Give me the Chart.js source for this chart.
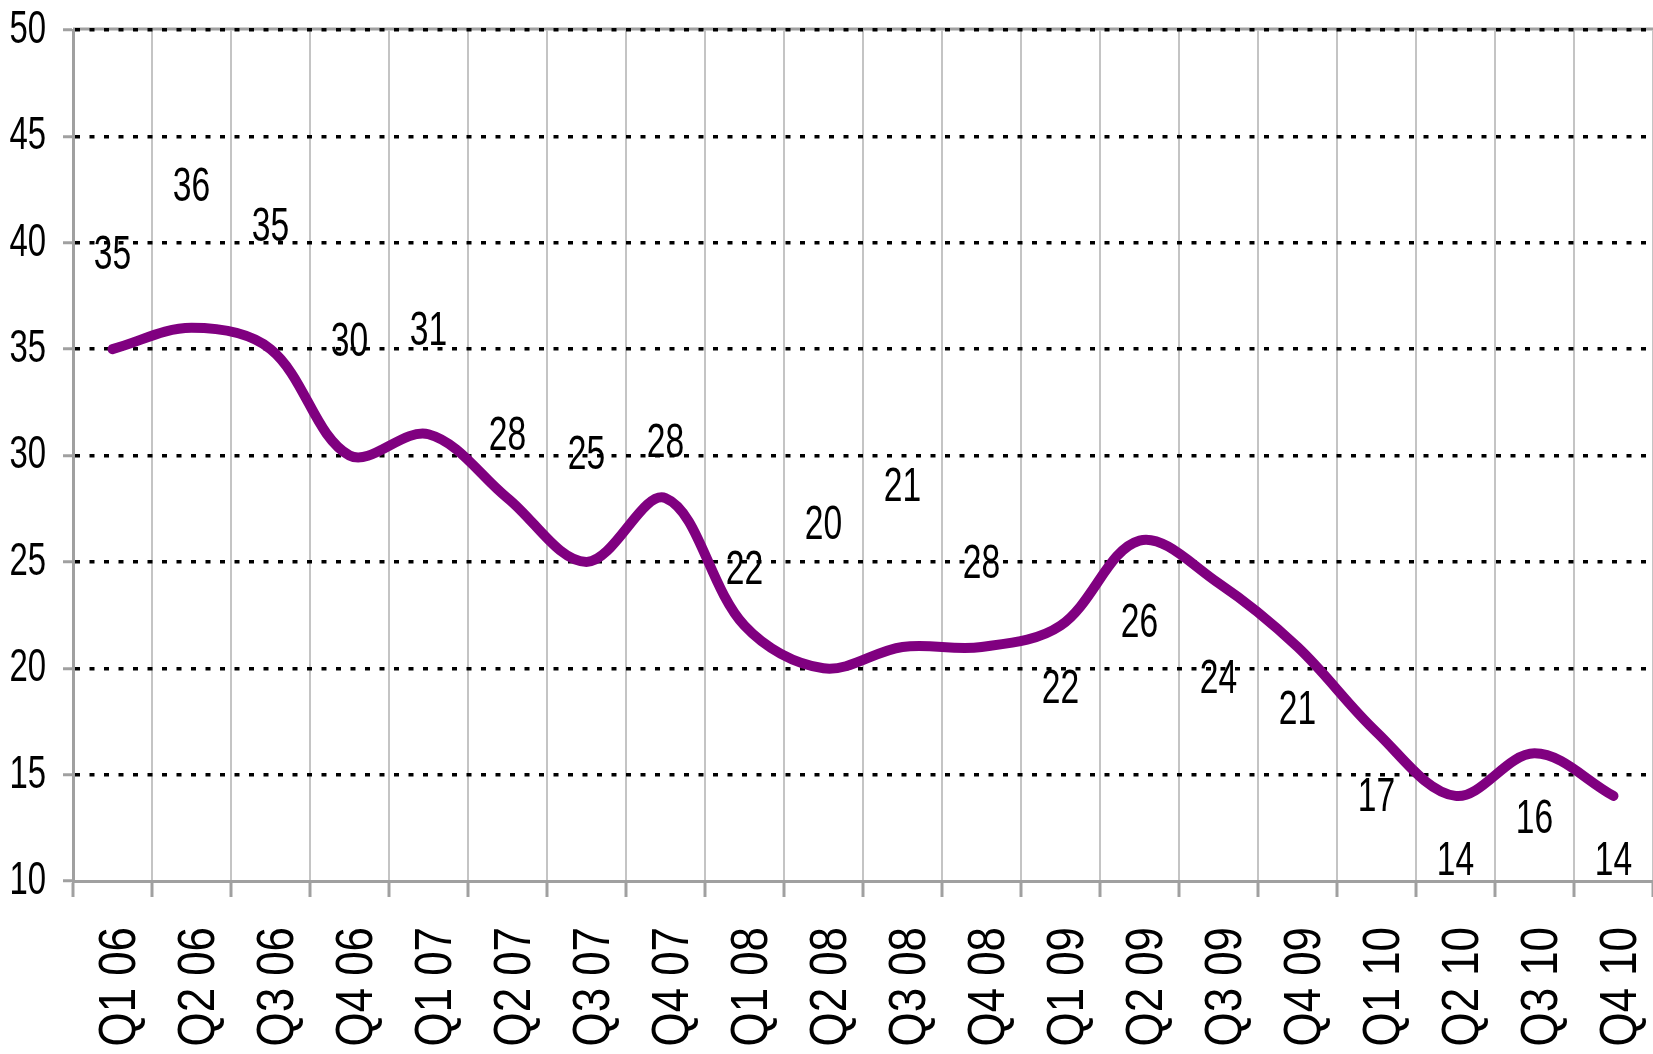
<!DOCTYPE html>
<html>
<head>
<meta charset="utf-8">
<title>Quarterly chart</title>
<script src="https://cdn.jsdelivr.net/npm/chart.js@4.4.1/dist/chart.umd.min.js"></script>
<style>
  html, body { margin: 0; padding: 0; background: #fff; }
  #wrap { width: 1653px; height: 1054px; position: relative; }
</style>
</head>
<body>
<div id="wrap"><canvas id="myChart"></canvas></div>
<script>
const categories = ["Q1 06", "Q2 06", "Q3 06", "Q4 06", "Q1 07", "Q2 07", "Q3 07", "Q4 07",
  "Q1 08", "Q2 08", "Q3 08", "Q4 08", "Q1 09", "Q2 09", "Q3 09", "Q4 09",
  "Q1 10", "Q2 10", "Q3 10", "Q4 10"];
const values = [35, 36, 35, 30, 31, 28, 25, 28, 22, 20, 21, 21, 22, 26, 24, 21, 17, 14, 16, 14];
// the labels as printed on the chart (one of them does not match its point)
const labelText = ["35", "36", "35", "30", "31", "28", "25", "28", "22", "20", "21", "28",
  "22", "26", "24", "21", "17", "14", "16", "14"];
// level (in axis units) at which each label sits
const labelLevels = [39.4, 42.6, 40.7, 35.3, 35.8, 30.9, 30.0, 30.55, 24.6, 26.7, 28.5, 24.85,
  19.0, 22.1, 19.45, 18.0, 13.9, 10.9, 12.9, 10.9];
const yTicks = [10, 15, 20, 25, 30, 35, 40, 45, 50];

const fontFamily = "'Liberation Sans', Arial, sans-serif";

// no narrow font installed -> squeeze text horizontally around its anchor
const canvas = document.getElementById("myChart");
const c2d = canvas.getContext("2d");
const origFillText = c2d.fillText;
c2d.fillText = function (text, x, y) {
  const big = /\b5\dpx/.test(this.font);
  this.save();
  this.translate(x, y);
  this.scale(big ? 0.86 : 0.7, 1);
  origFillText.call(this, text, 0, 0);
  this.restore();
};

// data labels + top frame line
const labelPlugin = {
  id: "labelPlugin",
  beforeDraw(chart) {
    const { ctx, chartArea } = chart;
    ctx.save();
    ctx.strokeStyle = "#a0a0a0";
    ctx.lineWidth = 3;
    ctx.beginPath();
    ctx.moveTo(chartArea.left, chartArea.top - 1);
    ctx.lineTo(chartArea.right, chartArea.top - 1);
    ctx.stroke();
    ctx.restore();
  },
  afterDatasetsDraw(chart) {
    const { ctx } = chart;
    const xs = chart.scales.x;
    const ys = chart.scales.y;
    ctx.save();
    ctx.fillStyle = "#000";
    ctx.font = "48px " + fontFamily;
    ctx.textAlign = "center";
    ctx.textBaseline = "middle";
    labelText.forEach(function (t, i) {
      ctx.fillText(t, xs.getPixelForValue(i), ys.getPixelForValue(labelLevels[i]));
    });
    ctx.restore();
  }
};

new Chart(canvas, {
  type: "line",
  data: {
    labels: categories,
    datasets: [{
      data: values,
      borderColor: "#800080",
      borderWidth: 10,
      borderCapStyle: "round",
      borderJoinStyle: "round",
      pointRadius: 0,
      tension: 0.35,
      fill: false
    }]
  },
  plugins: [labelPlugin],
  options: {
    responsive: true,
    maintainAspectRatio: false,
    animation: false,
    layout: { padding: { top: 30, right: 0, left: 0, bottom: 0 } },
    plugins: {
      legend: { display: false },
      tooltip: { enabled: false }
    },
    scales: {
      x: {
        offset: true,
        grid: {
          offset: true,
          color: "#c4c4c4",
          lineWidth: 2,
          tickLength: 16,
          tickColor: "#a0a0a0",
          tickWidth: 3
        },
        border: { color: "#a0a0a0", width: 3 },
        ticks: {
          minRotation: 90,
          maxRotation: 90,
          autoSkip: false,
          padding: 30,
          labelOffset: 8,
          color: "#000",
          font: { family: fontFamily, size: 51 }
        },
        afterFit(scale) {
          scale.height = 173;
          scale.paddingLeft = 0;
          scale.paddingRight = 0;
        }
      },
      y: {
        min: 10,
        max: 50,
        afterBuildTicks(scale) {
          scale.ticks = yTicks.map(function (v) { return { value: v }; });
        },
        grid: {
          color: function (c) { return c.tick && c.tick.value === 10 ? "rgba(0,0,0,0)" : "#000"; },
          lineWidth: 3.5,
          tickLength: 10,
          tickColor: "#a0a0a0",
          tickWidth: 3,
          tickBorderDash: []
        },
        border: { color: "#a0a0a0", width: 3, dash: [5, 9.5] },
        ticks: {
          padding: 17,
          color: "#000",
          font: { family: fontFamily, size: 47 }
        },
        afterFit(scale) {
          scale.width = 73;
          scale.paddingTop = 0;
          scale.paddingBottom = 0;
        }
      }
    }
  }
});
</script>
</body>
</html>
